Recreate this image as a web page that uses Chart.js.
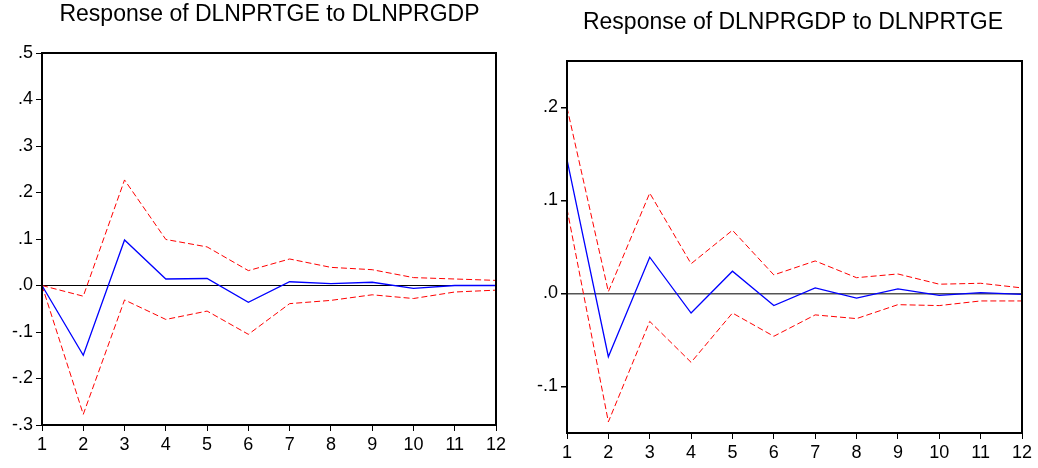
<!DOCTYPE html>
<html>
<head>
<meta charset="utf-8">
<script src="https://cdn.jsdelivr.net/npm/chart.js@4"></script>
<style>
    html, body { margin: 0; padding: 0; background: #fff; overflow: hidden; width: 1038px; height: 468px; }
    canvas { position: absolute; top: 0; }
    #left { left: 0; }
    #right { left: 520px; }
</style>
</head>
<body>
<canvas id="left" width="539" height="468"></canvas>
<canvas id="right" width="546" height="468"></canvas>
<script>
// horizon (periods)
const steps = ['1', '2', '3', '4', '5', '6', '7', '8', '9', '10', '11', '12'];

// Response of DLNPRTGE to DLNPRGDP
const title1 = 'Response of DLNPRTGE to DLNPRGDP';
const irf1   = [0, -0.150, 0.098, 0.014, 0.015, -0.036, 0.008, 0.004, 0.007, -0.006, 0.000, 0.000];
const upper1 = [0, -0.023, 0.227, 0.099, 0.083, 0.032, 0.057, 0.039, 0.034, 0.017, 0.014, 0.011];
const lower1 = [0, -0.277, -0.031, -0.073, -0.055, -0.105, -0.039, -0.032, -0.020, -0.028, -0.014, -0.010];
const yTicks1 = [-0.3, -0.2, -0.1, 0, 0.1, 0.2, 0.3, 0.4, 0.5];

// Response of DLNPRGDP to DLNPRTGE
const title2 = 'Response of DLNPRGDP to DLNPRTGE';
const irf2   = [0.144, -0.068, 0.039, -0.021, 0.024, -0.013, 0.006, -0.005, 0.005, -0.002, 0.001, -0.001];
const upper2 = [0.200, 0.002, 0.108, 0.032, 0.068, 0.020, 0.035, 0.017, 0.021, 0.010, 0.011, 0.006];
const lower2 = [0.091, -0.138, -0.030, -0.074, -0.021, -0.046, -0.023, -0.027, -0.012, -0.013, -0.008, -0.008];
const yTicks2 = [-0.1, 0, 0.1, 0.2];

// viết nhãn kiểu EViews: .5, -.1, .0
const fmt = v => {
    let s = Math.abs(v) < 1e-9 ? '0.0' : v.toFixed(1);
    return s.replace('0.', '.');
};

// khung viền trên + phải
const frame = {
    id: 'frame',
    afterDraw(chart) {
        const a = chart.chartArea, c = chart.ctx;
        c.save();
        c.strokeStyle = '#000';
        c.lineWidth = 2;
        c.strokeRect(a.left, a.top, a.right - a.left, a.bottom - a.top);
        c.restore();
    }
};

function makeChart(id, cfg) {
    const ctx = document.getElementById(id).getContext('2d');
    return new Chart(ctx, {
        type: 'line',
        data: {
            labels: steps,
            datasets: [
                { data: cfg.irf, borderColor: '#0000ff', borderWidth: 1.3 },
                { data: cfg.upper, borderColor: '#ff0000', borderWidth: 1, borderDash: [6, 3] },
                { data: cfg.lower, borderColor: '#ff0000', borderWidth: 1, borderDash: [6, 3] }
            ]
        },
        options: {
            responsive: false,
            animation: false,
            layout: { padding: 0 },
            elements: { point: { radius: 0 }, line: { tension: 0 } },
            plugins: {
                legend: { display: false },
                tooltip: { enabled: false },
                title: {
                    display: true,
                    text: cfg.title,
                    color: '#000',
                    font: { family: 'Liberation Sans', size: 23, weight: 'normal', lineHeight: 1.2 },
                    padding: { top: cfg.titleTop, bottom: cfg.titleBottom }
                }
            },
            scales: {
                x: {
                    offset: false,
                    afterFit: s => { s.height = cfg.xHeight; },
                    grid: { drawOnChartArea: false, color: '#000', tickColor: '#000', tickLength: 6, offset: false },
                    border: { display: true, color: '#000', width: 2 },
                    ticks: { color: '#000', padding: 3, maxRotation: 0, autoSkip: false,
                             font: { family: 'Liberation Sans', size: 18 } }
                },
                y: {
                    min: cfg.min,
                    max: cfg.max,
                    afterFit: s => { s.width = cfg.yWidth; },
                    afterBuildTicks: s => { s.ticks = cfg.ticks.map(v => ({ value: v })); },
                    grid: {
                        color: c => (c.tick && Math.abs(c.tick.value) < 1e-9) ? cfg.zeroColor : 'rgba(0,0,0,0)',
                        lineWidth: cfg.zeroWidth,
                        tickColor: '#000',
                        tickLength: 6
                    },
                    border: { display: true, color: '#000', width: 2 },
                    ticks: { color: '#000', padding: 3, callback: v => fmt(v),
                             font: { family: 'Liberation Sans', size: 18 } }
                },
                // trục trống bên phải, chỉ để chừa chỗ
                spacer: {
                    position: 'right',
                    afterFit: s => { s.width = cfg.rightGap; },
                    grid: { display: false },
                    border: { display: false },
                    ticks: { display: false }
                }
            }
        },
        plugins: [frame]
    });
}

makeChart('left', {
    title: title1, irf: irf1, upper: upper1, lower: lower1,
    min: -0.3, max: 0.5, ticks: yTicks1,
    titleTop: 0.5, titleBottom: 24.9, xHeight: 43, yWidth: 42, rightGap: 43,
    zeroColor: '#000', zeroWidth: 1
});

makeChart('right', {
    title: title2, irf: irf2, upper: upper2, lower: lower2,
    min: -0.15, max: 0.25, ticks: yTicks2,
    titleTop: 8.8, titleBottom: 24.6, xHeight: 35, yWidth: 47, rightGap: 44,
    zeroColor: '#555', zeroWidth: 1.5
});
</script>
</body>
</html>
